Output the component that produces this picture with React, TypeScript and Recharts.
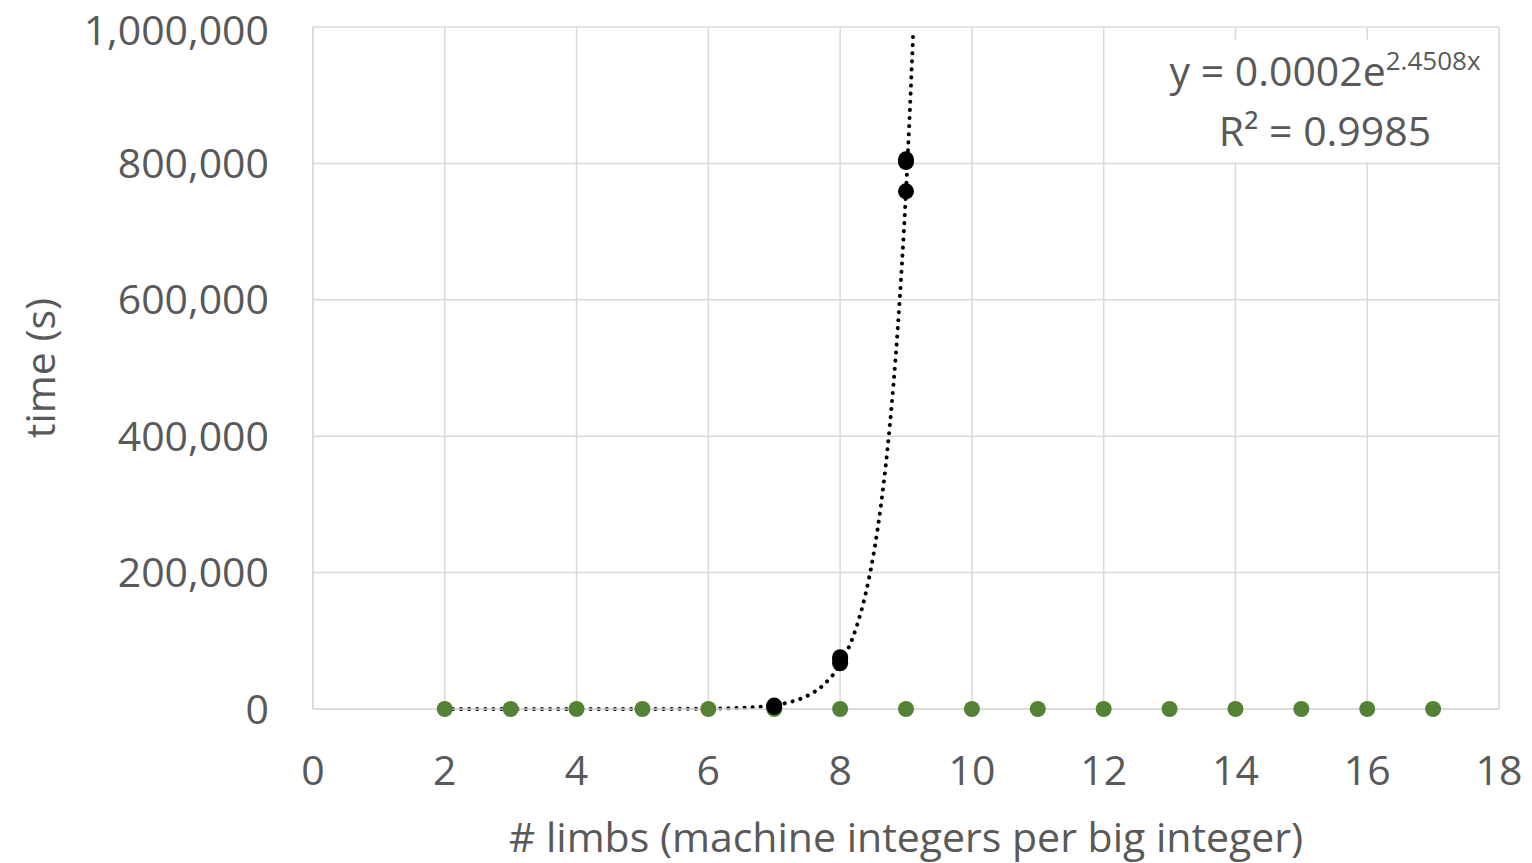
import React from "react";
import { ComposedChart, Scatter, Line, XAxis, YAxis, CartesianGrid } from "recharts";

const xTicks = [0, 2, 4, 6, 8, 10, 12, 14, 16, 18];
const yTicks = [0, 200000, 400000, 600000, 800000, 1000000];

// black measured points (limbs, time)
const blackX = [7, 7, 8, 8, 8, 9, 9, 9];
const blackY = [5000, 3000, 76000, 72000, 67000, 806000, 802000, 759000];

// green points (limbs, time) – all near zero
const greenX = [2, 3, 4, 5, 6, 7, 8, 9, 10, 11, 12, 13, 14, 15, 16, 17];
const greenY = [0, 0, 0, 0, 0, 0, 0, 0, 0, 0, 0, 0, 0, 0, 0, 0];

// exponential trendline y = 0.0002e^(2.4508x), tabulated
const trendX = [2, 3, 4, 5, 6, 6.5, 7, 7.25, 7.5, 7.75, 8, 8.125, 8.25, 8.375, 8.5, 8.625, 8.75, 8.875, 9, 9.05, 9.11];
const trendY = [0.03, 0.31, 3.6, 42, 487, 1659, 5643, 10410, 19210, 35450, 65400, 88900, 120700, 164000, 222800, 302600, 411300, 558700, 759000, 858600, 994000];

const blackData = blackX.map((x, i) => ({ x, y: blackY[i] }));
const greenData = greenX.map((x, i) => ({ x, y: greenY[i] }));
const trendData = trendX.map((x, i) => ({ x, y: trendY[i] }));

const FONT = "'Open Sans', sans-serif";
const GREY = "#595959";
const GRID = "#d9d9d9";
const FS = 41;

const YTick = (props: any) => {
  const { x, y, payload } = props;
  const shift = payload.value === 1000000 ? 3 : 0;
  return (
    <text x={x} y={y + shift} dy="0.355em" textAnchor="end" fill={GREY} fontSize={FS} fontFamily={FONT}>
      {Number(payload.value).toLocaleString("en-US")}
    </text>
  );
};

export default function App() {
  return (
    <div style={{ position: "absolute", left: 0, top: 0, width: 1532, height: 863, background: "#fff", fontFamily: FONT }}>
      <ComposedChart width={1532} height={863} margin={{ top: 27, right: 33, bottom: 0, left: 0 }}>
        <CartesianGrid stroke={GRID} strokeWidth={1.5} horizontal vertical />
        <XAxis
          type="number"
          dataKey="x"
          domain={[0, 18]}
          ticks={xTicks}
          height={154}
          axisLine={{ stroke: GRID, strokeWidth: 1.5 }}
          tickLine={false}
          tickSize={0}
          tickMargin={47}
          tick={{ fill: GREY, fontSize: FS, fontFamily: FONT }}
          label={{ value: "# limbs (machine integers per big integer)", position: "insideBottom", offset: 11, fill: GREY, fontSize: FS, fontFamily: FONT }}
        />
        <YAxis
          type="number"
          dataKey="y"
          domain={[0, 1000000]}
          ticks={yTicks}
          width={313}
          axisLine={{ stroke: GRID, strokeWidth: 1.5 }}
          tickLine={false}
          tickSize={0}
          tickMargin={44}
          tick={<YTick />}
          label={{ value: "time (s)", angle: -90, position: "insideLeft", offset: 40, fill: GREY, fontSize: FS, fontFamily: FONT, style: { textAnchor: "middle" } }}
        />
        <Scatter data={greenData} fill="#548235" isAnimationActive={false} shape={(p: any) => <circle cx={p.cx} cy={p.cy} r={8} fill="#548235" />} />
        <Scatter data={blackData} fill="#000" isAnimationActive={false} shape={(p: any) => <circle cx={p.cx} cy={p.cy} r={8} fill="#000" />} />
        <Line
          data={trendData}
          dataKey="y"
          type="monotone"
          stroke="#000"
          strokeWidth={4}
          strokeDasharray="0.1 8"
          strokeLinecap="round"
          dot={false}
          activeDot={false}
          isAnimationActive={false}
        />
      </ComposedChart>
      <div
        style={{
          position: "absolute",
          left: 1153,
          top: 40,
          width: 344,
          height: 122,
          background: "#fff",
          color: GREY,
          fontSize: 41,
          textAlign: "center",
          lineHeight: "60px",
          fontFamily: FONT,
        }}
      >
        <div>
          y = 0.0002e<sup style={{ fontSize: 26, verticalAlign: "0.6em", lineHeight: 0 }}>2.4508x</sup>
        </div>
        <div>R² = 0.9985</div>
      </div>
    </div>
  );
}
